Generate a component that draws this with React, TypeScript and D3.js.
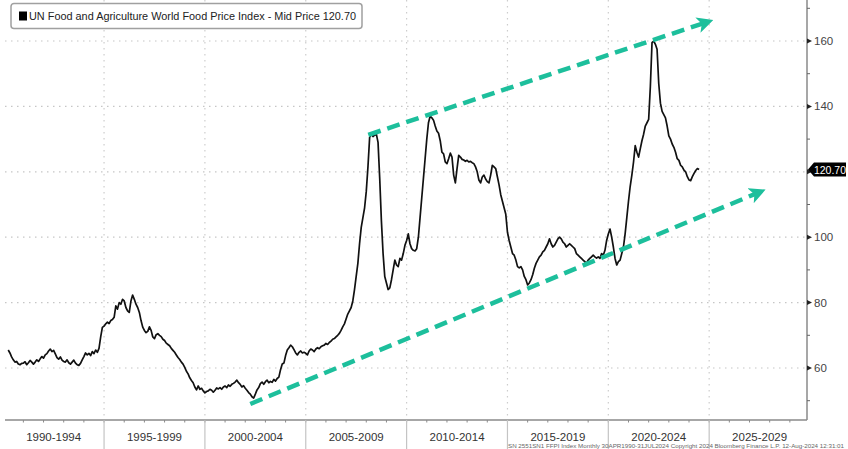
import React, { useEffect, useRef } from 'react';
import * as d3 from 'd3';

// FAO food price index, monthly; the series begins Apr 1990
const firstMonth = 3;
const ffpi1990s: number[][] = [
  [65.5, 64.6, 63.4, 62.5, 61.8, 62.0, 61.2, 61.0, 61.4],
  [61.5, 61.9, 61.0, 61.6, 62.3, 61.8, 61.2, 61.8, 62.5, 62.0, 62.8, 63.5],
  [63.0, 64.0, 64.4, 65.2, 65.8, 65.0, 65.4, 64.3, 63.2, 62.7, 63.4, 62.4],
  [62.0, 61.8, 62.5, 61.6, 61.2, 61.8, 62.4, 61.5, 61.0, 60.8, 61.4, 62.5],
  [63.5, 64.6, 64.0, 64.5, 63.8, 65.0, 64.4, 65.5, 64.8, 66.0, 69.5, 72.4],
  [72.8, 73.5, 74.0, 73.6, 74.5, 74.8, 75.5, 79.0, 78.0, 80.0, 79.5, 81.0],
  [80.5, 78.5, 77.5, 77.0, 80.5, 82.3, 81.0, 79.5, 78.5, 77.0, 74.5, 72.5],
  [71.5, 70.8, 71.2, 72.6, 71.5, 69.5, 69.0, 70.2, 70.5, 70.0, 69.6, 68.8],
  [68.4, 67.6, 67.2, 66.8, 66.0, 65.4, 64.8, 64.0, 63.2, 62.6, 61.8, 61.2],
  [60.2, 59.0, 58.2, 57.0, 56.2, 55.5, 54.2, 53.3, 54.5, 53.5, 53.8, 53.0],
];
const ffpi2000s: number[][] = [
  [52.4, 52.8, 53.0, 53.5, 53.2, 52.6, 53.2, 53.9, 53.6, 54.0, 53.5, 54.2],
  [54.5, 54.0, 54.8, 54.4, 55.0, 55.3, 55.7, 56.3, 55.5, 55.0, 54.2, 54.6],
  [53.8, 53.2, 52.5, 52.0, 51.2, 50.8, 52.0, 53.3, 54.0, 55.2, 55.7, 55.0],
  [55.8, 56.3, 55.5, 55.9, 55.6, 56.5, 56.0, 56.8, 57.2, 59.5, 61.2, 61.5],
  [63.8, 65.5, 66.2, 67.0, 66.5, 65.6, 64.6, 64.0, 64.8, 65.2, 64.6, 64.8],
  [64.5, 64.0, 65.2, 65.8, 65.5, 65.0, 65.8, 66.2, 65.9, 66.5, 66.8, 67.0],
  [67.5, 67.2, 67.8, 68.2, 68.8, 69.0, 69.5, 70.0, 70.6, 71.5, 72.6, 73.5],
  [75.0, 76.5, 77.5, 78.5, 80.5, 84.0, 88.0, 92.0, 98.0, 103.0, 106.0, 109.0],
  [114.0, 121.5, 130.5, 131.5, 130.8, 131.2, 131.5, 129.0, 118.0, 105.0, 95.0, 88.0],
  [86.0, 84.0, 84.5, 87.0, 90.0, 93.0, 91.5, 91.0, 93.5, 93.0, 95.0, 97.5],
];
const ffpi2010s: number[][] = [
  [99.0, 101.0, 98.0, 96.5, 96.0, 95.8, 96.5, 100.0, 106.0, 112.0, 118.0, 124.0],
  [130.0, 135.0, 137.0, 136.5, 135.8, 134.0, 132.5, 131.8, 129.5, 126.0, 125.5, 123.0],
  [122.5, 124.0, 125.7, 124.5, 119.0, 116.6, 121.0, 125.0, 124.5, 123.8, 123.6, 123.2],
  [123.5, 123.0, 123.2, 122.8, 122.5, 121.5, 120.0, 117.5, 116.6, 118.4, 119.0, 117.8],
  [117.0, 116.6, 119.0, 122.0, 121.5, 121.0, 118.5, 116.0, 113.0, 111.0, 109.0, 107.0],
  [101.5, 99.0, 97.0, 95.0, 94.5, 93.0, 91.0, 90.6, 91.0, 90.0, 88.0, 87.0],
  [85.4, 86.0, 87.0, 88.5, 90.5, 92.0, 93.0, 94.0, 94.5, 95.5, 96.0, 97.0],
  [98.0, 99.5, 98.0, 97.0, 97.5, 98.5, 99.5, 100.0, 99.5, 98.5, 98.0, 97.0],
  [97.5, 98.0, 97.5, 97.0, 96.5, 95.0, 94.5, 94.0, 93.5, 93.0, 92.5, 92.0],
  [93.0, 93.5, 94.0, 94.5, 94.0, 93.6, 94.0, 93.5, 95.0, 94.5, 96.0, 99.0],
];
const ffpi2020s: number[][] = [
  [101.0, 102.5, 100.0, 97.0, 93.5, 91.5, 92.5, 93.0, 95.0, 97.0, 101.0, 106.0],
  [111.0, 115.5, 119.0, 123.0, 128.0, 126.0, 124.5, 127.0, 129.5, 131.5, 134.0, 135.0],
  [136.0, 146.0, 159.5, 160.0, 159.0, 157.5, 147.0, 141.0, 138.5, 137.5, 136.5, 134.0],
  [131.0, 130.0, 128.5, 127.5, 126.0, 124.0, 123.5, 122.0, 121.5, 120.5, 120.0, 118.5],
  [117.5, 117.3, 118.5, 119.5, 120.4, 121.0, 120.7],
];

const periodLabels = ['1990-1994', '1995-1999', '2000-2004', '2005-2009', '2010-2014', '2015-2019', '2020-2024', '2025-2029'];
const yTicks = [60, 80, 100, 120, 140, 160];
const yMinorTicks = [50, 70, 90, 110, 130, 150, 170];
const lastPrice = 120.7;

// green trend arrows: [year, value] pairs
const upperTrend: [number, number][] = [[2008.1, 131.3], [2024.9, 165.8]];
const lowerTrend: [number, number][] = [[2002.25, 49.0], [2027.5, 113.8]];

const legendText = 'UN Food and Agriculture World Food Price Index - Mid Price 120.70';
const footerText = 'SN 2551SN1 FFPI Index Monthly 30APR1990-31JUL2024 Copyright 2024 Bloomberg Finance L.P. 12-Aug-2024 12:31:01';

const W = 848;
const H = 449;
const teal = '#1dbf9c';
const font = '"Liberation Sans Narrow", "Liberation Sans", Arial, sans-serif';

const App: React.FC = () => {
  const ref = useRef<SVGSVGElement | null>(null);

  useEffect(() => {
    if (!ref.current) return;
    const svg = d3.select(ref.current);
    svg.selectAll('*').remove();

    const axisX = 807;
    const axisY = 420;

    const x = d3.scaleLinear().domain([1990, 2029.85]).range([3.2, axisX]);
    const y = d3.scaleLinear().domain([60, 160]).range([368, 41]);

    const rows = [...ffpi1990s, ...ffpi2000s, ...ffpi2010s, ...ffpi2020s];
    const series: { t: number; v: number }[] = [];
    rows.forEach((row, yi) => row.forEach((v, m) => {
      const month = yi === 0 ? m + firstMonth : m;
      series.push({ t: 1990 + yi + month / 12, v });
    }));

    const defs = svg.append('defs');
    defs.append('marker')
      .attr('id', 'arrowHead')
      .attr('viewBox', '0 0 10 10')
      .attr('refX', 6)
      .attr('refY', 5)
      .attr('markerWidth', 3.6)
      .attr('markerHeight', 3.6)
      .attr('markerUnits', 'strokeWidth')
      .attr('orient', 'auto')
      .append('path')
      .attr('d', 'M0,0 L10,5 L0,10 L2.5,5 Z')
      .attr('fill', teal);

    // gridlines
    const grid = svg.append('g');
    grid.selectAll('.hgrid')
      .data(yTicks)
      .enter().append('line')
      .attr('x1', 5).attr('x2', axisX)
      .attr('y1', d => y(d)).attr('y2', d => y(d))
      .attr('stroke', '#c6c6c6').attr('stroke-width', 1.2)
      .attr('stroke-dasharray', '1.5,4.5');

    const periods = d3.range(periodLabels.length + 1).map(i => 1990 + i * 5);
    grid.selectAll('.vgrid')
      .data(periods.slice(1, periodLabels.length))
      .enter().append('line')
      .attr('x1', d => x(d)).attr('x2', d => x(d))
      .attr('y1', 0).attr('y2', axisY)
      .attr('stroke', '#cdcdcd').attr('stroke-width', 1.2)
      .attr('stroke-dasharray', '1.5,4.5');

    // bottom axis
    svg.append('line')
      .attr('x1', 5).attr('x2', axisX).attr('y1', axisY).attr('y2', axisY)
      .attr('stroke', '#8a8a8a').attr('stroke-width', 1.5);
    svg.selectAll('.xtick-minor')
      .data(d3.range(1991, 2030))
      .enter().append('line')
      .attr('x1', d => x(d)).attr('x2', d => x(d))
      .attr('y1', axisY).attr('y2', axisY + 2.5)
      .attr('stroke', '#8a8a8a').attr('stroke-width', 1);
    svg.selectAll('.sep')
      .data(periods.slice(1, periodLabels.length))
      .enter().append('line')
      .attr('x1', d => x(d)).attr('x2', d => x(d))
      .attr('y1', axisY).attr('y2', H)
      .attr('stroke', '#c4c4c4').attr('stroke-width', 1.2);
    svg.selectAll('.plabel')
      .data(periodLabels)
      .enter().append('text')
      .attr('x', (_, i) => (x(periods[i]) + Math.min(x(periods[i + 1]), axisX + 8)) / 2)
      .attr('y', 440.5)
      .attr('text-anchor', 'middle')
      .attr('font-family', font)
      .attr('font-size', 11.5)
      .attr('fill', '#333')
      .text(d => d);

    // right axis
    svg.append('line')
      .attr('x1', axisX).attr('x2', axisX).attr('y1', 0).attr('y2', axisY)
      .attr('stroke', '#8a8a8a').attr('stroke-width', 1.5);
    svg.selectAll('.ymajor')
      .data(yTicks)
      .enter().append('path')
      .attr('d', d => `M${axisX},${y(d) - 2.5} L${axisX + 5},${y(d)} L${axisX},${y(d) + 2.5} Z`)
      .attr('fill', '#222');
    svg.selectAll('.yminor')
      .data(yMinorTicks)
      .enter().append('line')
      .attr('x1', axisX).attr('x2', axisX + 3)
      .attr('y1', d => y(d)).attr('y2', d => y(d))
      .attr('stroke', '#666').attr('stroke-width', 1);
    svg.selectAll('.ylabel')
      .data(yTicks.filter(d => d !== 120))
      .enter().append('text')
      .attr('x', axisX + 7)
      .attr('y', d => y(d) + 4)
      .attr('font-family', font)
      .attr('font-size', 11.5)
      .attr('fill', '#444')
      .text(d => d);

    // last price tag
    const ly = y(lastPrice);
    svg.append('path')
      .attr('d', `M${axisX + 1},${ly} L${axisX + 7},${ly - 7} L${W - 2},${ly - 7} L${W - 2},${ly + 7} L${axisX + 7},${ly + 7} Z`)
      .attr('fill', '#000');
    svg.append('text')
      .attr('x', (axisX + 7 + W - 2) / 2)
      .attr('y', ly + 4)
      .attr('text-anchor', 'middle')
      .attr('font-family', font)
      .attr('font-size', 10.5)
      .attr('fill', '#fff')
      .text(lastPrice.toFixed(2));

    // price line
    const line = d3.line<{ t: number; v: number }>()
      .x(d => x(d.t))
      .y(d => y(d.v));
    svg.append('path')
      .datum(series)
      .attr('d', line)
      .attr('fill', 'none')
      .attr('stroke', '#111')
      .attr('stroke-width', 1.7)
      .attr('stroke-linejoin', 'round');

    // trend arrows
    [upperTrend, lowerTrend].forEach(tr => {
      svg.append('line')
        .attr('x1', x(tr[0][0])).attr('y1', y(tr[0][1]))
        .attr('x2', x(tr[1][0])).attr('y2', y(tr[1][1]))
        .attr('stroke', teal)
        .attr('stroke-width', 4.5)
        .attr('stroke-dasharray', '13,7')
        .attr('marker-end', 'url(#arrowHead)');
    });

    // legend
    const lg = svg.append('g');
    lg.append('rect')
      .attr('x', 11).attr('y', 3.5).attr('width', 351).attr('height', 25).attr('rx', 3)
      .attr('fill', '#fff').attr('stroke', '#a0a0a0').attr('stroke-width', 1.5);
    lg.append('rect')
      .attr('x', 19).attr('y', 11.5).attr('width', 8).attr('height', 9)
      .attr('fill', '#000');
    lg.append('text')
      .attr('x', 29).attr('y', 20)
      .attr('font-family', font)
      .attr('font-size', 11)
      .attr('fill', '#222')
      .attr('textLength', 327)
      .attr('lengthAdjust', 'spacingAndGlyphs')
      .text(legendText);

    // footer source line, tucked under the period labels
    svg.append('text')
      .attr('x', 508).attr('y', 447.5)
      .attr('font-family', font)
      .attr('font-size', 6)
      .attr('fill', '#666')
      .attr('textLength', 336)
      .attr('lengthAdjust', 'spacingAndGlyphs')
      .text(footerText);
  }, []);

  return (
    <>
      <style>{'body{margin:0;background:#fff}'}</style>
      <svg ref={ref} width={W} height={H} style={{ display: 'block' }} />
    </>
  );
};

export default App;
